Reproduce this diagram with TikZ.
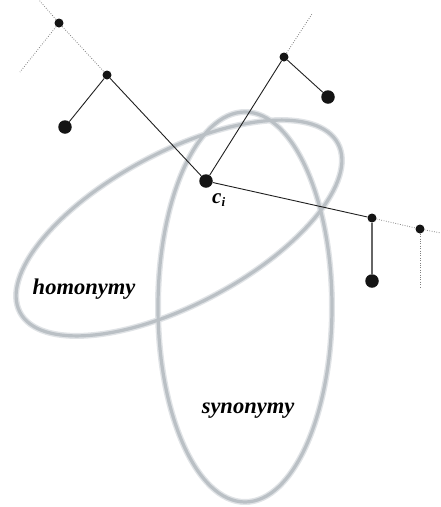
\documentclass[tikz,border=0pt]{standalone}
\usepackage{fontspec}
\setmainfont{Liberation Serif}
\begin{document}
\begin{tikzpicture}[x=1pt,y=-1pt,
  sdot/.style={circle,fill=black!92,inner sep=0pt,minimum size=9pt},
  bdot/.style={circle,fill=black!92,inner sep=0pt,minimum size=13.5pt},
  link/.style={black!88,line width=0.9pt},
  greylink/.style={black!60,line width=1.1pt},
  faint/.style={black!50,line width=0.8pt,dash pattern=on 0.8pt off 1.6pt},
  haloring/.style={color={rgb,255:red,224;green,227;blue,230},line width=6pt},
  ring/.style={color={rgb,255:red,186;green,192;blue,197},line width=3.2pt},
  lbl/.style={font=\fontsize{22.5}{26}\selectfont\bfseries\itshape,inner sep=0pt}]
\useasboundingbox (0,0) rectangle (441,507);

% ellipses
\draw[haloring] (245,307) ellipse [x radius=87pt, y radius=195pt];
\draw[haloring, rotate around={28:(179,228)}] (179,228) ellipse [x radius=180pt, y radius=76pt];
\draw[ring] (245,307) ellipse [x radius=87pt, y radius=195pt];
\draw[ring, rotate around={28:(179,228)}] (179,228) ellipse [x radius=180pt, y radius=76pt];

% nodes
\node[sdot] (A) at (59,23) {};
\node[sdot] (B) at (107,75) {};
\node[bdot] (C) at (65,127) {};
\node[bdot] (ci) at (206,181) {};
\node[sdot] (D) at (284,57) {};
\node[bdot] (E) at (328,97) {};
\node[sdot] (F) at (372,218) {};
\node[sdot] (G) at (420,229) {};
\node[bdot] (H) at (372,281) {};

\coordinate (Aup) at (39,0);
\coordinate (Aleft) at (20,72);
\coordinate (Dup) at (312,14);
\coordinate (Gright) at (441,233);
\coordinate (Gdown) at (420,287);

% dotted continuations
\draw[faint] (A) -- (Aup);
\draw[faint] (A) -- (Aleft);
\draw[faint] (A) -- (B);
\draw[faint] (D) -- (Dup);
\draw[faint] (F) -- (G);
\draw[faint] (G) -- (Gright);
\draw[faint] (G) -- (Gdown);

% solid links
\draw[link] (B) -- (C);
\draw[link] (B) -- (ci);
\draw[link] (ci) -- (D);
\draw[link] (D) -- (E);
\draw[link] (ci) -- (F);
\draw[greylink] (F) -- (H);

% labels
\node[font=\fontsize{21}{24}\selectfont\bfseries\itshape,inner sep=0pt,anchor=base west] (cil) at (212,203) {c\raisebox{-3pt}{\fontsize{13}{14}\selectfont i}};
\node[lbl] (hom) at (84,289) {homonymy};
\node[lbl] (syn) at (248,411) {synonymy};
\end{tikzpicture}
\end{document}
